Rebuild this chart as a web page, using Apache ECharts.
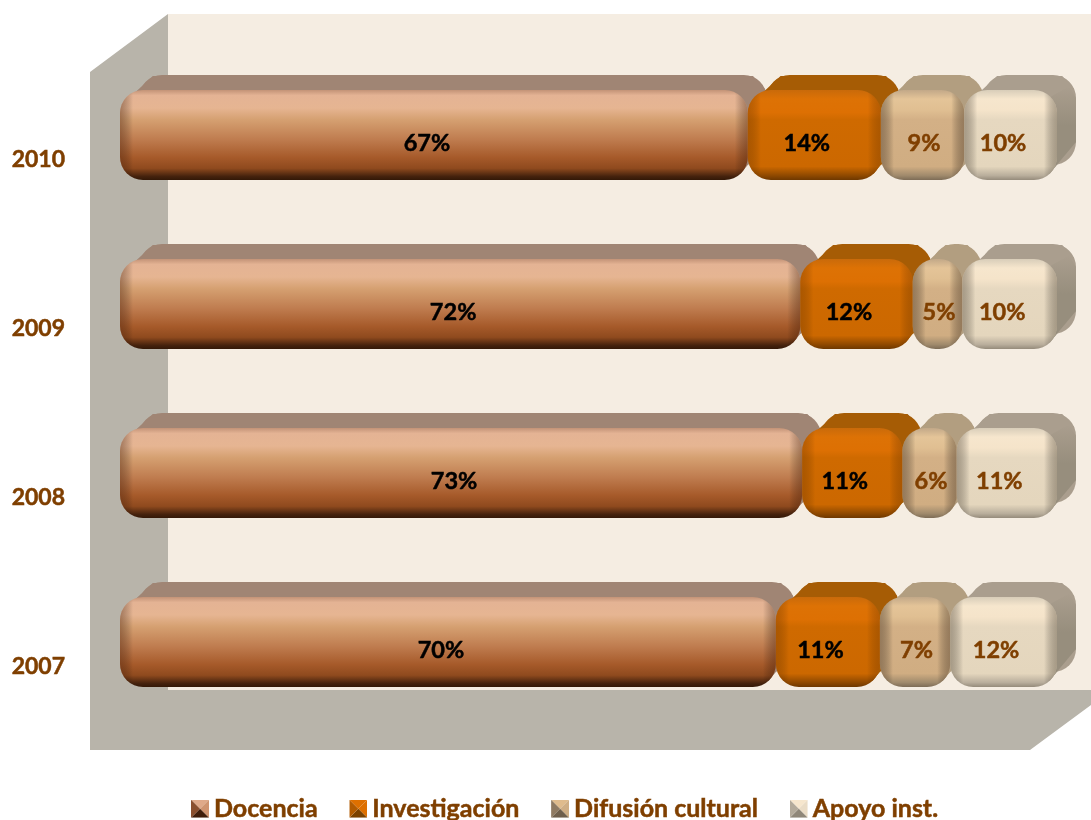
<!DOCTYPE html>
<html><head><meta charset="utf-8">
<style>html,body{margin:0;padding:0;background:#fff}#c{width:1091px;height:820px}</style>
<script src="https://cdn.jsdelivr.net/npm/echarts@6/dist/echarts.min.js"></script>
</head><body><div id="c"></div>
<script>
// Categories, bottom to top
const years = ['2007', '2008', '2009', '2010'];
// Bar lengths (share of full bar, %)
const docencia      = [70.0, 72.8, 72.6, 67.0];
const investigacion = [11.1, 10.7, 12.0, 14.2];
const difusion      = [7.5, 5.8, 5.3, 8.9];
const apoyo         = [11.4, 10.7, 10.1, 9.9];
// Printed labels
const docenciaLabels      = ['70%', '73%', '72%', '67%'];
const investigacionLabels = ['11%', '11%', '12%', '14%'];
const difusionLabels      = ['7%', '6%', '5%', '9%'];
const apoyoLabels         = ['12%', '11%', '10%', '10%'];
const seriesNames = ['Docencia', 'Investigación', 'Difusión cultural', 'Apoyo inst.'];

const FONT = 'Lato, "Open Sans", sans-serif';
const BROWN = '#7f3f00';
const DX = 19, DY = -15, R = 23;

const looks = [
 {front:[[0,'#c39377'],[.06,'#e4b394'],[.2,'#e6b592'],[.33,'#d5a071'],[.55,'#bf7c4f'],[.75,'#a65a2a'],[.87,'#8f4a1e'],[.96,'#45220d'],[1,'#331807']],
  top:'#a08574', side:'#a08574', text:'#000', edge:'rgba(70,30,10,0.4)', shift:-7},
 {front:[[0,'#c96a0a'],[.1,'#dd7205'],[.25,'#dd7003'],[.33,'#cf6a00'],[.85,'#cc6800'],[.95,'#8f4900'],[1,'#6e3800']],
  top:'#a65c05', side:'#a65c05', text:'#000', edge:'rgba(90,45,0,0.3)', shift:-7.5},
 {front:[[0,'#c2a888'],[.1,'#e4c498'],[.22,'#e0bf92'],[.33,'#d3b086'],[.85,'#d0ad82'],[.95,'#a08a6c'],[1,'#7d6c56']],
  top:'#b29e80', side:'#b29e80', text:BROWN, edge:'rgba(90,70,50,0.5)', shift:1.5},
 {front:[[0,'#d8cdb9'],[.1,'#f6e6cd'],[.22,'#f5e4ca'],[.33,'#e6d8c0'],[.85,'#e4d6bd'],[.95,'#b9ae9c'],[1,'#958b7b']],
  top:'#aa9e8e', side:'#978e7d', text:BROWN, edge:'rgba(90,80,65,0.45)', shift:-7.5}
];

function iconFor(l){
  const svg = `<svg xmlns="http://www.w3.org/2000/svg" width="18" height="18"><polygon points="0,0 18,0 9,9" fill="${l[0]}"/><polygon points="18,0 18,18 9,9" fill="${l[1]}"/><polygon points="0,18 18,18 9,9" fill="${l[3]}"/><polygon points="0,0 0,18 9,9" fill="${l[2]}"/></svg>`;
  return 'image://data:image/svg+xml;charset=utf-8,' + encodeURIComponent(svg);
}
const iconColors = [
  ['#dfa989','#cf9470','#8a4f2e','#3f1d0a'],
  ['#de7000','#de7000','#b25b00','#7a4200'],
  ['#dfbb8d','#cfae85','#8f7a62','#6f5f4c'],
  ['#f6e6cd','#eadcc6','#b3aa9b','#8f8779']
];

const allValues = [docencia, investigacion, difusion, apoyo];
const allLabels = [docenciaLabels, investigacionLabels, difusionLabels, apoyoLabels];

function segmentData(k){
  return years.map((y,i)=>{
    let start = 0;
    for(let j=0;j<k;j++) start += allValues[j][i];
    return [start, start+allValues[k][i], i, allLabels[k][i]];
  });
}

function grad(x0,y0,x1,y1,stops){
  return new echarts.graphic.LinearGradient(x0,y0,x1,y1,stops.map(s=>({offset:s[0],color:s[1]})));
}

function makeRender(k){
  const look = looks[k];
  return function(params, api){
    const a = api.coord([api.value(0), api.value(2)]);
    const b = api.coord([api.value(1), api.value(2)]);
    const band = api.size([0,1])[1];
    const h = band*90/169;
    const x = a[0], w = b[0]-a[0], y = a[1]-h/2;
    const rr = Math.min(R, w/2);
    const kids = [];
    // rear silhouette (top and side faces)
    kids.push({type:'rect',shape:{x:x+DX,y:y+DY,width:w,height:h,r:rr},style:{fill:look.top}});
    kids.push({type:'polygon',shape:{points:[[x+3,y+rr*0.6],[x+rr*0.6+DX,y+DY+1],[x+w+DX-rr*0.6,y+DY+1],[x+w+DX-2,y+DY+rr*0.6],[x+w+DX,y+h+DY-rr],[x+w-rr*0.3,y+h-rr*0.3],[x+w/2,y+h/2]]},
      style:{fill:look.top}});
    // right side face
    kids.push({type:'polygon',shape:{points:[[x+w-rr*0.3,y+rr*0.3],[x+w+DX-rr*0.3,y+DY+rr*0.5],[x+w+DX,y+DY+rr],[x+w+DX,y+h+DY-rr],[x+w-rr*0.3,y+h-rr*0.3]]},
      style:{fill:grad(0,0,0,1,[[0,look.top],[.45,look.side],[1,look.side]])}});
    // front face
    kids.push({type:'rect',shape:{x:x,y:y,width:w,height:h,r:rr},style:{fill:grad(0,0,0,1,look.front)}});
    // edge shading
    const e = 13/w;
    kids.push({type:'rect',shape:{x:x,y:y,width:w,height:h,r:rr},style:{fill:grad(0,0,1,0,[[0,look.edge],[e,'rgba(0,0,0,0)'],[1-e,'rgba(0,0,0,0)'],[1,look.edge]])}});
    // printed value
    kids.push({type:'text',style:{text:api.value(3),x:x+w/2+look.shift,y:a[1]+8.5,align:'center',verticalAlign:'middle',
      font:'bold 23.5px '+FONT,fill:look.text,stroke:look.text,lineWidth:0.5}});
    return {type:'group',children:kids};
  };
}

const chart = echarts.init(document.getElementById('c'));
chart.setOption({
  animation:false,
  backgroundColor:'#fff',
  textStyle:{fontFamily:FONT},
  grid:{left:120,width:937,top:50.5,height:676},
  xAxis:{type:'value',min:0,max:100,show:false},
  yAxis:{type:'category',data:years,
    axisLine:{show:false},axisTick:{show:false},splitLine:{show:false},
    axisLabel:{margin:55,fontSize:23,lineHeight:50,formatter:'\n{value}',fontWeight:'bold',color:BROWN,fontFamily:FONT,
      textBorderColor:BROWN,textBorderWidth:0.5}},
  legend:{left:191,top:796,padding:0,itemGap:31.5,itemWidth:18,itemHeight:18,
    textStyle:{fontSize:25,fontWeight:'bold',color:BROWN,fontFamily:FONT,textBorderColor:BROWN,textBorderWidth:0.5},
    data:seriesNames.map((n,k)=>({name:n,icon:iconFor(iconColors[k])}))},
  graphic:[
    {type:'polygon',silent:true,z:-10,shape:{points:[[168,14],[1091,14],[1091,691],[168,691]]},style:{fill:'#f5ede2'}},
    {type:'polygon',silent:true,z:-10,shape:{points:[[90,72],[168,14],[168,690],[1091,690],[1091,705],[1030,750],[90,750]]},style:{fill:'#b8b4aa'}}
  ],
  series:seriesNames.map((n,k)=>({
    name:n,type:'custom',coordinateSystem:'cartesian2d',
    renderItem:makeRender(k),
    encode:{x:[0,1],y:2},
    itemStyle:{color:iconColors[k][0]},
    data:segmentData(k)
  }))
});
</script></body></html>
